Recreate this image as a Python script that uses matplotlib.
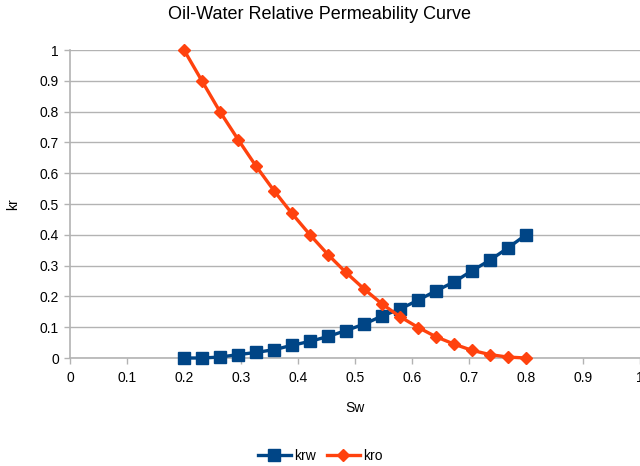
import matplotlib
matplotlib.use("Agg")
import matplotlib.pyplot as plt

sw = [0.2, 0.232, 0.263, 0.295, 0.326, 0.358, 0.389, 0.421, 0.453, 0.484,
      0.516, 0.547, 0.579, 0.611, 0.642, 0.674, 0.705, 0.737, 0.768, 0.8]
krw = [0.0, 0.0, 0.003, 0.011, 0.018, 0.027, 0.041, 0.054, 0.070, 0.089,
       0.110, 0.136, 0.159, 0.188, 0.218, 0.247, 0.283, 0.318, 0.357, 0.4]
kro = [1.0, 0.898, 0.80, 0.709, 0.624, 0.543, 0.470, 0.400, 0.335, 0.278,
       0.224, 0.176, 0.134, 0.099, 0.069, 0.045, 0.025, 0.011, 0.003, 0.0]
xticks = [0, 0.1, 0.2, 0.3, 0.4, 0.5, 0.6, 0.7, 0.8, 0.9, 1]
yticks = [0, 0.1, 0.2, 0.3, 0.4, 0.5, 0.6, 0.7, 0.8, 0.9, 1]

plt.rcParams['font.family'] = ['Liberation Sans', 'DejaVu Sans']

fig = plt.figure(figsize=(6.4, 4.66), dpi=100)
ax = fig.add_axes([70/640, 108/466, 570/640, 308/466])

ax.plot(sw, krw, color='#004586', lw=2.4, marker='s', ms=8, label='krw', clip_on=False, zorder=3)
ax.plot(sw, kro, color='#ff420e', lw=2.4, marker='D', ms=6, label='kro', clip_on=False, zorder=4)

ax.set_xlim(0, 1)
ax.set_ylim(0, 1)
ax.set_xticks(xticks)
ax.set_yticks(yticks)
ax.set_xticklabels([f"{t:g}" for t in xticks])
ax.set_yticklabels([f"{t:g}" for t in yticks])
ax.grid(axis='y', color='#b3b3b3', lw=1)
ax.set_axisbelow(True)
for s in ['top', 'right']:
    ax.spines[s].set_visible(False)
for s in ['left', 'bottom']:
    ax.spines[s].set_color('#b3b3b3')
    ax.spines[s].set_linewidth(1.2)
ax.tick_params(axis='both', colors='#b3b3b3', labelcolor='black', labelsize=10, length=4, width=1)
ax.tick_params(axis='x', pad=5)
ax.tick_params(axis='y', pad=4)

ax.set_xlabel('Sw', fontsize=10, labelpad=12)
ax.set_ylabel('kr', fontsize=10, labelpad=14)
fig.suptitle('Oil-Water Relative Permeability Curve', fontsize=13, y=0.988)

fig.legend(loc='center', bbox_to_anchor=(0.5, 0.021), ncol=2, frameon=False,
           fontsize=10, handlelength=2.4, columnspacing=0.8, handletextpad=0.2)

fig.savefig('out.png', dpi=100)
